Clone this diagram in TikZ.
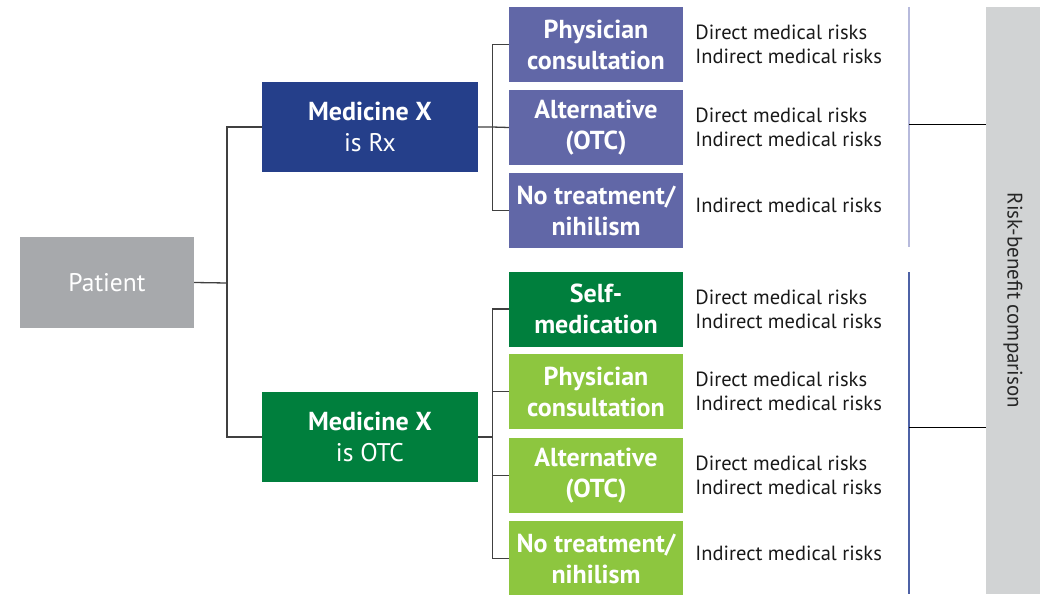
\documentclass[tikz,border=0pt]{standalone}
\usepackage{fontspec}
\setmainfont{PT Sans}
\usepackage{graphicx}
\usetikzlibrary{positioning}
\definecolor{patgray}{HTML}{A7A9AC}
\definecolor{rxblue}{HTML}{253F8A}
\definecolor{rxpurple}{HTML}{6167A7}
\definecolor{otcgreen}{HTML}{007F3D}
\definecolor{otclight}{HTML}{8DC63F}
\definecolor{cmpgray}{HTML}{D1D3D4}
\definecolor{barlight}{HTML}{B7BADC}
\definecolor{bardark}{HTML}{4E62A6}

\begin{document}
\begin{tikzpicture}[x=1pt,y=-1pt,
    box/.style={rectangle,inner sep=0pt,text=white,align=center,
      font=\fontsize{25.5}{31}\selectfont},
    top/.style={box,minimum width=216pt,minimum height=90pt},
    sub/.style={box,minimum width=174pt,minimum height=75pt,
      font=\fontsize{26}{31}\selectfont\bfseries},
    risk/.style={align=left,inner sep=0pt,text=black!90,
      font=\fontsize{20.5}{24}\selectfont},
    link/.style={draw=black!75,line width=1.3pt}]
\useasboundingbox (0,0) rectangle (1051,594);

\node[top,fill=patgray,minimum width=174pt,minimum height=91pt] (pat) at (107,282.5) {Patient};
\node[top,fill=rxblue] (rx) at (370,127) {\textbf{\fontsize{26}{31}\selectfont Medicine X}\\is Rx};
\node[top,fill=otcgreen] (otc) at (370,437) {\textbf{\fontsize{26}{31}\selectfont Medicine X}\\is OTC};

\node[sub,fill=rxpurple] (rxdoc) at (596,44.5) {Physician\\consultation};
\node[sub,fill=rxpurple] (rxalt) at (596,127.5) {Alternative\\(OTC)};
\node[sub,fill=rxpurple] (rxnone) at (596,210.5) {No treatment/\\nihilism};
\node[sub,fill=otcgreen] (otcself) at (596,309) {Self-\\medication};
\node[sub,fill=otclight] (otcdoc) at (596,391.5) {Physician\\consultation};
\node[sub,fill=otclight] (otcalt) at (596,475.5) {Alternative\\(OTC)};
\node[sub,fill=otclight] (otcnone) at (596,558.5) {No treatment/\\nihilism};

\foreach \n in {rxdoc,rxalt,otcself,otcdoc,otcalt}
  \node[risk,right=12pt of \n] (\n-risk) {Direct medical risks\\Indirect medical risks};
\foreach \n in {rxnone,otcnone}
  \node[risk,right=12pt of \n,yshift=5pt] (\n-risk) {Indirect medical risks};

\node[fill=cmpgray,inner sep=0pt,minimum width=54pt,minimum height=587pt,
  font=\fontsize{21}{24}\selectfont,text=black!85] (cmp) at (1013,300.5)
  {\rotatebox{-90}{Risk-benefit comparison}};

\coordinate (f1) at (227,283);
\coordinate (f2) at ([xshift=14pt]rx.east);
\coordinate (f3) at ([xshift=14pt]otc.east);
\draw[link] (pat.east) -- (f1);
\draw[link] (rx.west) -| (f1) |- (otc.west);
\draw[link] (rx.east) -- (f2) -- (rxalt.west);
\draw[link] (rxdoc.west) -| (f2) |- (rxnone.west);
\draw[link] (otc.east) -- (f3);
\draw[link] (otcself.west) -| (f3) |- (otcnone.west);
\draw[link] (otcdoc.west) -| (f3) |- (otcalt.west);

\coordinate (rxtop) at (909,7);
\coordinate (rxbot) at (909,247);
\coordinate (otctop) at (909,272);
\coordinate (otcbot) at (909,594);
\draw[barlight,line width=1.5pt] (rxtop) -- (rxbot);
\draw[bardark,line width=1.5pt] (otctop) -- (otcbot);
\coordinate (rxmid) at (909,124);
\coordinate (otcmid) at (909,427);
\draw[black,line width=1pt] (rxmid) -- (rxmid -| cmp.west);
\draw[black,line width=1pt] (otcmid) -- (otcmid -| cmp.west);
\end{tikzpicture}
\end{document}
